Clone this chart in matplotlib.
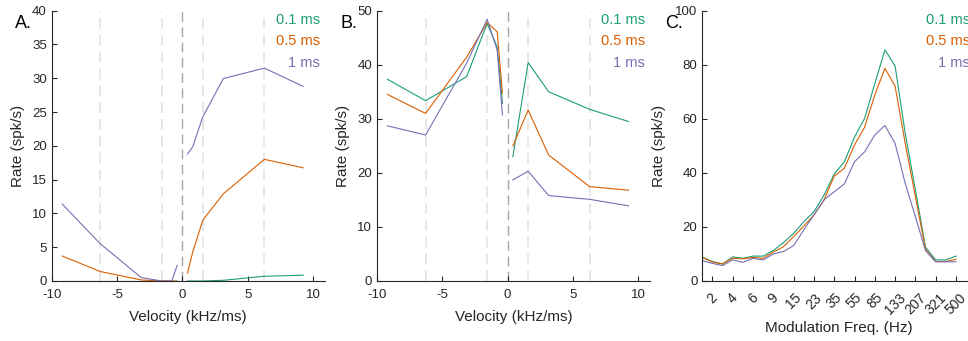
import matplotlib
matplotlib.use("Agg")
import matplotlib.pyplot as plt

plt.rcParams['font.family'] = ['Liberation Sans', 'DejaVu Sans']
plt.rcParams['axes.unicode_minus'] = False

GREEN = '#1b9e77'
ORANGE = '#d95f02'
PURPLE = '#7570b3'
TXT = '#262626'

series_names = ['0.1 ms', '0.5 ms', '1 ms']
series_colors = [GREEN, ORANGE, PURPLE]

# panel A: velocity tuning (negative / positive sweeps drawn separately)
vel_neg = [-9.2, -6.28, -3.14, -1.57, -0.8, -0.4]
vel_pos_a = [0.4, 0.8, 1.57, 3.14, 6.28, 9.25]
a_neg_01 = [0, 0, 0, 0, 0, 0]
a_neg_05 = [3.7, 1.4, 0.15, 0, 0, 0]
a_neg_1 = [11.4, 5.5, 0.5, 0, 0, 2.3]
a_pos_01 = [0, 0, 0, 0.1, 0.7, 0.85]
a_pos_05 = [1.2, 4.3, 9.0, 12.9, 18.0, 16.75]
a_pos_1 = [18.8, 19.85, 24.3, 29.95, 31.5, 28.8]

# panel B
vel_pos_b = [0.4, 1.57, 3.14, 6.28, 9.25]
b_neg_01 = [37.3, 33.35, 37.8, 47.65, 43.3, 32.9]
b_neg_05 = [34.5, 31.0, 41.4, 47.8, 46.1, 34.8]
b_neg_1 = [28.7, 27.0, 40.3, 48.4, 42.7, 30.7]
b_pos_01 = [23.0, 40.4, 35.0, 31.75, 29.5]
b_pos_05 = [25.0, 31.6, 23.3, 17.45, 16.8]
b_pos_1 = [18.7, 20.3, 15.8, 15.1, 13.9]

# panel C: modulation transfer function (26 freqs, every other one labelled)
mod_labels = ['2', '4', '6', '9', '15', '23', '35', '55', '85', '133', '207', '321', '500']
c_01 = [8.8, 7.2, 6.3, 8.9, 8.4, 9.2, 9.2, 11.3, 14.2, 17.6, 21.9, 25.6, 31.8,
        39.6, 44.1, 53.2, 60.2, 73.0, 85.5, 79.5, 54.6, 33.7, 12.5, 7.8, 7.8, 9.2]
c_05 = [8.7, 7.0, 6.3, 8.4, 8.2, 8.7, 8.4, 10.7, 12.7, 16.4, 20.3, 24.4, 30.0,
        38.8, 41.7, 50.3, 56.9, 68.8, 78.7, 72.1, 50.9, 31.2, 11.7, 7.2, 7.2, 8.0]
c_1 = [7.5, 6.5, 5.7, 7.8, 6.9, 8.4, 7.8, 10.0, 10.9, 13.1, 18.9, 24.4, 30.0,
       33.0, 35.9, 44.1, 47.8, 54.0, 57.5, 50.9, 36.1, 23.8, 11.2, 7.1, 7.1, 7.1]

guide_lines = [-6.28, -1.57, 1.57, 6.28]

fig = plt.figure(figsize=(9.68, 3.41), dpi=100)
bottom, height = 0.176, 0.7927
width = 0.282
axA = fig.add_axes([0.0534, bottom, width, height])
axB = fig.add_axes([0.3895, bottom, width, height])
axC = fig.add_axes([0.7255, bottom, width, height])

lw = 0.8


def style(ax, letter, ylab_x, xlab_y):
    for s in ['top', 'right']:
        ax.spines[s].set_visible(False)
    for s in ['left', 'bottom']:
        ax.spines[s].set_color(TXT)
        ax.spines[s].set_linewidth(0.8)
    ax.tick_params(direction='in', length=3.5, width=0.8, colors=TXT,
                   labelsize=9.5)
    ax.tick_params(axis='x', pad=5.5)
    ax.text(-0.135, 0.936, letter, transform=ax.transAxes, fontsize=13,
            color='black', ha='left', va='baseline')
    ax.yaxis.set_label_coords(ylab_x, 0.5)
    ax.xaxis.set_label_coords(0.5, xlab_y)
    for i, (name, c) in enumerate(zip(series_names, series_colors)):
        ax.text(0.982, 0.966 - i * 0.079, name, transform=ax.transAxes,
                color=c, fontsize=10.5, ha='right', va='center')


for ax in (axA, axB):
    for g in guide_lines:
        ax.axvline(g, color='#e0e0e0', lw=1.1, ls=(0, (7, 4)), zorder=0)
    ax.axvline(0, color='#a6a6a6', lw=1.0, ls=(0, (7, 4)), zorder=0)
    ax.set_xlim(-10, 10.9)
    ax.set_xticks([-10, -5, 0, 5, 10])
    ax.set_xlabel('Velocity (kHz/ms)', fontsize=11, color=TXT, va='center')
    ax.set_ylabel('Rate (spk/s)', fontsize=11, color=TXT, va='center')

for ys_neg, ys_pos, c in zip([a_neg_01, a_neg_05, a_neg_1],
                             [a_pos_01, a_pos_05, a_pos_1], series_colors):
    axA.plot(vel_neg, ys_neg, color=c, lw=lw)
    axA.plot(vel_pos_a, ys_pos, color=c, lw=lw)
axA.set_ylim(0, 40)
axA.set_yticks(range(0, 41, 5))

for ys_neg, ys_pos, c in zip([b_neg_01, b_neg_05, b_neg_1],
                             [b_pos_01, b_pos_05, b_pos_1], series_colors):
    axB.plot(vel_neg, ys_neg, color=c, lw=lw)
    axB.plot(vel_pos_b, ys_pos, color=c, lw=lw)
axB.set_ylim(0, 50)
axB.set_yticks(range(0, 51, 10))

idx = list(range(len(c_01)))
for ys, c in zip([c_01, c_05, c_1], series_colors):
    axC.plot(idx, ys, color=c, lw=lw)
axC.set_xlim(0, 26.9)
axC.set_ylim(0, 100)
axC.set_yticks(range(0, 101, 20))
axC.set_xticks(idx[1::2])
axC.set_xticklabels(mod_labels, rotation=45, ha='center')
axC.set_xlabel('Modulation Freq. (Hz)', fontsize=11, color=TXT, va='center')
axC.set_ylabel('Rate (spk/s)', fontsize=11, color=TXT, va='center')

style(axA, 'A.', -0.125, -0.133)
style(axB, 'B.', -0.126, -0.133)
style(axC, 'C.', -0.159, -0.174)
axC.tick_params(axis='x', pad=7, labelsize=10)

fig.savefig('out.png', dpi=100)
